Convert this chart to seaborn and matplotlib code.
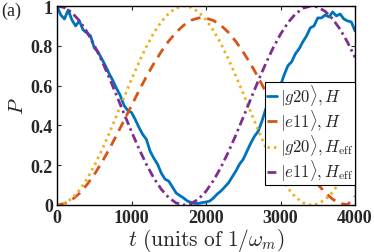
import numpy as np
import pandas as pd
import matplotlib
matplotlib.use("Agg")
import matplotlib.pyplot as plt
import seaborn as sns

# ---- data ----
t_blue = [0, 50, 100, 150, 200, 250, 300, 350, 400, 450, 500, 550, 600, 650, 700, 750,
          800, 850, 900, 950, 1000, 1050, 1100, 1150, 1200, 1250, 1300, 1350, 1400, 1450,
          1500, 1550, 1600, 1650, 1700, 1750, 1800, 1850, 1900, 1950, 2000, 2050, 2100,
          2150, 2200, 2250, 2300, 2350, 2400, 2450, 2500, 2550, 2600, 2650, 2700, 2750,
          2800, 2850, 2900, 2950, 3000, 3050, 3100, 3150, 3200, 3250, 3300, 3350, 3400,
          3450, 3500, 3550, 3600, 3650, 3700, 3750, 3800, 3850, 3900, 3950, 4000]
p_g20_H = [1.00, 0.955, 0.935, 0.98, 0.93, 0.90, 0.925, 0.88, 0.865, 0.85, 0.79, 0.77,
           0.735, 0.70, 0.66, 0.625, 0.585, 0.55, 0.50, 0.475, 0.465, 0.43, 0.39, 0.355,
           0.33, 0.27, 0.235, 0.205, 0.16, 0.13, 0.12, 0.09, 0.06, 0.047, 0.035, 0.02,
           0.013, 0.008, 0.008, 0.012, 0.015, 0.02, 0.035, 0.055, 0.07, 0.09, 0.11, 0.14,
           0.17, 0.205, 0.23, 0.27, 0.31, 0.345, 0.37, 0.42, 0.48, 0.52, 0.55, 0.58, 0.60,
           0.655, 0.70, 0.72, 0.76, 0.785, 0.82, 0.85, 0.89, 0.90, 0.94, 0.94, 0.955,
           0.945, 0.97, 0.95, 0.96, 0.935, 0.925, 0.92, 0.875]

t_smooth = [0, 100, 200, 300, 400, 500, 600, 700, 800, 900, 1000, 1100, 1200, 1300, 1400,
            1500, 1600, 1700, 1800, 1900, 2000, 2100, 2200, 2300, 2400, 2500, 2600, 2700,
            2800, 2900, 3000, 3100, 3200, 3300, 3400, 3500, 3600, 3700, 3800, 3900, 4000]
p_e11_H = [0.000, 0.007, 0.026, 0.058, 0.101, 0.153, 0.213, 0.280, 0.351, 0.425, 0.500,
           0.574, 0.645, 0.711, 0.771, 0.824, 0.868, 0.903, 0.928, 0.940, 0.939, 0.927,
           0.903, 0.868, 0.822, 0.768, 0.708, 0.642, 0.570, 0.496, 0.422, 0.348, 0.278,
           0.213, 0.155, 0.104, 0.062, 0.029, 0.008, 0.001, 0.044]
p_g20_Heff = [0.000, 0.008, 0.033, 0.074, 0.129, 0.197, 0.274, 0.359, 0.450, 0.541,
              0.631, 0.717, 0.796, 0.865, 0.921, 0.963, 0.990, 1.000, 0.993, 0.970,
              0.931, 0.877, 0.811, 0.734, 0.649, 0.560, 0.468, 0.377, 0.291, 0.211,
              0.142, 0.084, 0.040, 0.012, 0.000, 0.005, 0.027, 0.065, 0.117, 0.182, 0.258]
p_e11_Heff = [1.000, 0.992, 0.967, 0.926, 0.871, 0.803, 0.726, 0.641, 0.550, 0.459,
              0.369, 0.283, 0.204, 0.135, 0.079, 0.037, 0.010, 0.000, 0.007, 0.030,
              0.069, 0.123, 0.189, 0.266, 0.351, 0.441, 0.532, 0.623, 0.709, 0.789,
              0.858, 0.916, 0.960, 0.988, 1.000, 0.995, 0.973, 0.935, 0.883, 0.818, 0.742]

labels = [r'$|g20\rangle, H$', r'$|e11\rangle, H$',
          r'$|g20\rangle, H_{\rm eff}$', r'$|e11\rangle, H_{\rm eff}$']
x_ticks = [0, 1000, 2000, 3000, 4000]
y_ticks = [0, 0.2, 0.4, 0.6, 0.8, 1]
y_tick_labels = ['0', '0.2', '0.4', '0.6', '0.8', '1']

# ---- style ----
sns.set_style("ticks")
plt.rcParams['font.family'] = ['Liberation Serif', 'DejaVu Serif']
plt.rcParams['mathtext.fontset'] = 'cm'

colors = ['#0072BD', '#D95319', '#EDB120', '#7E2F8E']

fig = plt.figure(figsize=(3.74, 2.53), dpi=100)
ax = fig.add_axes([57/374, 47/253, 298/374, 199/253])

df_b = pd.DataFrame({'t': t_blue, 'P': p_g20_H})
df_s = pd.DataFrame({'t': t_smooth, 'e11H': p_e11_H, 'g20Heff': p_g20_Heff,
                     'e11Heff': p_e11_Heff})

sns.lineplot(data=df_b, x='t', y='P', ax=ax, color=colors[0], lw=2.0,
             label=labels[0], sort=False)
sns.lineplot(data=df_s, x='t', y='e11H', ax=ax, color=colors[1], lw=2.0,
             label=labels[1])
ax.lines[-1].set_dashes([3.6, 2.4])
sns.lineplot(data=df_s, x='t', y='g20Heff', ax=ax, color=colors[2], lw=2.0,
             label=labels[2])
ax.lines[-1].set_dashes([0.9, 1.4])
sns.lineplot(data=df_s, x='t', y='e11Heff', ax=ax, color=colors[3], lw=2.0,
             label=labels[3])
ax.lines[-1].set_dashes([3.2, 1.4, 0.9, 1.4])

ax.set_xlim(0, 4000)
ax.set_ylim(0, 1)
ax.set_xticks(x_ticks)
ax.set_xticklabels([str(v) for v in x_ticks], fontweight='bold', fontsize=13)
ax.set_yticks(y_ticks)
ax.set_yticklabels(y_tick_labels, fontweight='bold', fontsize=13)
ax.tick_params(direction='in', top=True, right=True, length=3, width=0.8, pad=3)
for s in ax.spines.values():
    s.set_linewidth(1.0)
    s.set_color('black')

ax.set_xlabel(r'$t\ (\mathrm{units\ of}\ 1/\omega_m)$', fontsize=15.5, labelpad=0)
ax.set_ylabel(r'$P$', fontsize=15, labelpad=2)

leg = ax.legend(loc='lower right', bbox_to_anchor=(1.0, 0.10), fontsize=12,
                frameon=True, fancybox=False, framealpha=1, edgecolor='black',
                handlelength=0.6, handletextpad=0.2, borderpad=0.1,
                labelspacing=0.0, borderaxespad=0.0)
leg.get_frame().set_linewidth(0.8)

fig.text(0.003, 0.955, '(a)', fontsize=13, va='center', ha='left')

fig.savefig('out.png', dpi=100)
